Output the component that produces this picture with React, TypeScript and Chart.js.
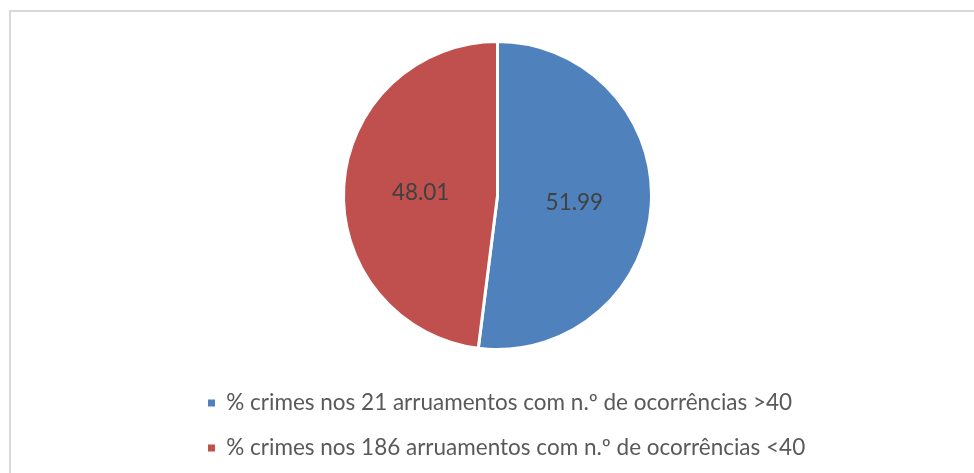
import { useEffect, useRef } from "react";
import { Chart, registerables, layouts } from "chart.js";
Chart.register(...registerables);

const categories = [
  "% crimes nos 21 arruamentos com n.º de ocorrências >40",
  "% crimes nos 186 arruamentos com n.º de ocorrências <40",
];
const values = [51.99, 48.01];
const valueLabels = ["51.99", "48.01"];
const colors = ["#4F81BD", "#C0504D"];

const FONT = "Lato";

const framePlugin = {
  id: "frame",
  beforeDraw(chart: any) {
    const ctx = chart.ctx;
    ctx.save();
    ctx.strokeStyle = "#d9d9d9";
    ctx.lineWidth = 2;
    ctx.strokeRect(10, 11, 2000, 2000);
    ctx.restore();
  },
};

// reserves space on the right of the chart area only (legend keeps full width)
const spacerPlugin = {
  id: "rightSpacer",
  beforeInit(chart: any) {
    const box: any = {
      id: "rightSpacerBox",
      position: "right",
      weight: 0,
      fullSize: false,
      options: {},
      left: 0,
      top: 0,
      right: 0,
      bottom: 0,
      width: 0,
      height: 0,
      isHorizontal() {
        return false;
      },
      getPadding() {
        return { top: 0, left: 0, right: 0, bottom: 0 };
      },
      update(_maxWidth: number, maxHeight: number) {
        this.width = 164.5;
        this.height = maxHeight;
      },
      draw() {},
    };
    layouts.addBox(chart, box);
  },
};

const labelPlugin = {
  id: "sliceLabels",
  afterDatasetsDraw(chart: any) {
    const ctx = chart.ctx;
    const meta = chart.getDatasetMeta(0);
    ctx.save();
    ctx.fillStyle = "#404040";
    ctx.font = `22.5px ${FONT}`;
    ctx.textAlign = "center";
    ctx.textBaseline = "middle";
    meta.data.forEach((arc: any, i: number) => {
      const p = arc.getCenterPoint();
      ctx.fillText(valueLabels[i], p.x, p.y + 2);
    });
    ctx.restore();
  },
};

export default function App() {
  const ref = useRef<HTMLCanvasElement | null>(null);
  useEffect(() => {
    if (!ref.current) return;
    const chart = new Chart(ref.current, {
      type: "pie",
      data: {
        labels: categories,
        datasets: [
          {
            data: values,
            backgroundColor: colors,
            borderColor: "#ffffff",
            borderWidth: 3,
            radius: 154,
          } as any,
        ],
      },
      options: {
        animation: false,
        responsive: true,
        maintainAspectRatio: false,
        layout: { padding: { left: 185.5, right: 0, top: 21.75, bottom: 3.75 } },
        plugins: {
          tooltip: { enabled: false },
          legend: {
            position: "bottom",
            align: "start",
            labels: {
              boxWidth: 7,
              boxHeight: 7,
              padding: 22.5,
              color: "#595959",
              font: { family: FONT, size: 22.5 },
              generateLabels: (c: any) =>
                (Chart as any).overrides.pie.plugins.legend.labels
                  .generateLabels(c)
                  .map((it: any) => ({ ...it, lineWidth: 0 })),
            },
          },
        },
      },
      plugins: [framePlugin, spacerPlugin, labelPlugin],
    });
    return () => chart.destroy();
  }, []);
  return (
    <div style={{ position: "fixed", left: 0, top: 0, width: 974, height: 473, background: "#fff" }}>
      <canvas ref={ref} />
    </div>
  );
}
